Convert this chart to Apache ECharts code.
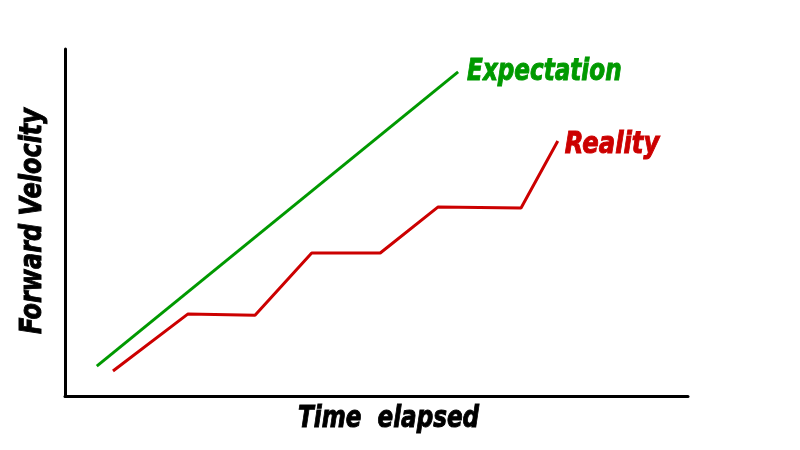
<!DOCTYPE html>
<html>
<head>
<meta charset="utf-8">
<script src="https://cdn.jsdelivr.net/npm/echarts@6/dist/echarts.min.js"></script>
<style>
  html, body { margin: 0; padding: 0; background: #fff; }
  #chart { width: 800px; height: 450px; }
</style>
</head>
<body>
<div id="chart"></div>
<script>
// 时间轴 0..100，速度轴 0..100（示意图，无刻度）
const expectationPoints = [[5.1, 8.6], [63.1, 93.4]];
const realityPoints = [
    [7.7, 7.2], [19.7, 23.6], [30.5, 23.3], [39.6, 41.2],
    [50.6, 41.2], [59.9, 54.5], [73.2, 54.2], [79.1, 73.5],
];

const FONT = "'DejaVu Sans', 'Liberation Sans', sans-serif";
const GREEN = '#009900';
const RED = '#cc0000';

const chart = echarts.init(document.getElementById('chart'));
chart.setOption({
    animation: false,
    backgroundColor: '#fff',
    grid: { left: 65, right: 112, top: 49, bottom: 54, outerBoundsMode: 'none' },
    xAxis: {
        type: 'value',
        min: 0,
        max: 100,
        axisLine: { lineStyle: { color: '#000', width: 3 } },
        axisTick: { show: false },
        axisLabel: { show: false },
        splitLine: { show: false },
    },
    yAxis: {
        type: 'value',
        min: 0,
        max: 100,
        axisLine: { show: true, lineStyle: { color: '#000', width: 3 } },
        axisTick: { show: false },
        axisLabel: { show: false },
        splitLine: { show: false },
    },
    series: [
        {
            name: 'Expectation',
            type: 'line',
            data: expectationPoints,
            symbol: 'none',
            lineStyle: { color: GREEN, width: 3 },
        },
        {
            name: 'Reality',
            type: 'line',
            data: realityPoints,
            symbol: 'none',
            lineStyle: { color: RED, width: 3 },
        },
    ],
});

// 线尾的文字标签，按数据终点换算像素位置
const expEnd = chart.convertToPixel({ seriesIndex: 0 }, expectationPoints[expectationPoints.length - 1]);
const realEnd = chart.convertToPixel({ seriesIndex: 1 }, realityPoints[realityPoints.length - 1]);

const labelFont = `italic bold 30px ${FONT}`;
// 描一圈同色细边，让字显得更粗
const textStyle = (text, color, align) => ({
    text, fill: color, stroke: color, lineWidth: 1, font: labelFont, align, verticalAlign: 'middle',
});

chart.setOption({
    graphic: [
        {
            type: 'text',
            x: expEnd[0] + 9,
            y: expEnd[1],
            scaleX: 0.77,
            style: textStyle('Expectation', GREEN, 'left'),
        },
        {
            type: 'text',
            x: realEnd[0] + 7,
            y: realEnd[1] + 4,
            scaleX: 0.81,
            style: textStyle('Reality', RED, 'left'),
        },
        {
            type: 'text',
            x: 298,
            y: 419,
            scaleX: 0.77,
            style: textStyle('Time  elapsed', '#000', 'left'),
        },
        {
            type: 'text',
            x: 33,
            y: 221,
            rotation: Math.PI / 2,
            scaleX: 0.8,
            style: textStyle('Forward Velocity', '#000', 'center'),
        },
    ],
});
</script>
</body>
</html>
